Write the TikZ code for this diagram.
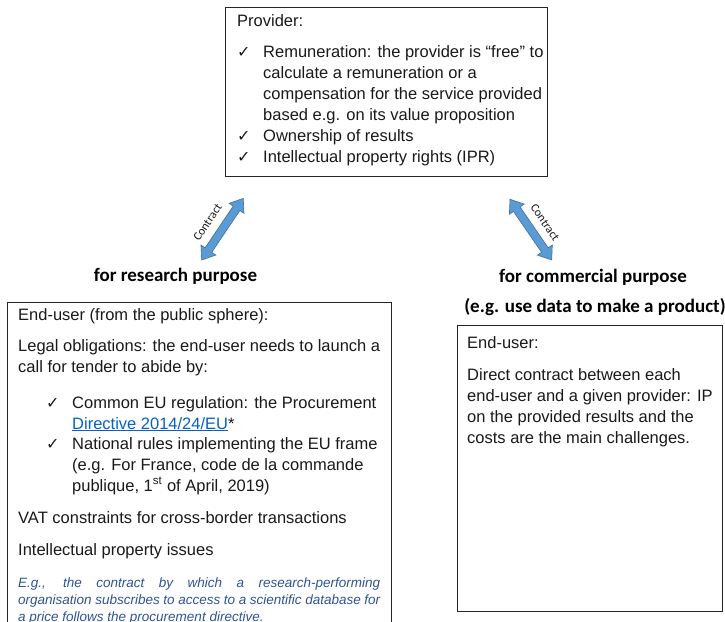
\documentclass[tikz,border=0pt]{standalone}
\usepackage{fontspec}
\setmainfont{Liberation Sans}
\newfontfamily\calfont{Carlito}
\newfontfamily\symfont{DejaVu Sans}
\definecolor{arrowblue}{HTML}{5B9BD5}
\definecolor{arrowedge}{HTML}{41719C}
\definecolor{linkblue}{HTML}{0563C1}
\definecolor{noteblue}{HTML}{2F5496}
\definecolor{ink}{HTML}{1A1A1A}
\newcommand\mylines[1]{\parbox[t]{500pt}{#1}}
\tikzset{
  box/.style={draw=black!85, line width=0.9pt, anchor=north west, inner sep=0pt},
  txt/.style={anchor=base west, inner sep=0pt, text=ink, font=\fontsize{16.5}{21}\selectfont},
  ital/.style={anchor=base west, inner sep=0pt, text=noteblue, font=\fontsize{13.5}{17}\selectfont\itshape},
  chk/.style={anchor=base west, inner sep=0pt, text=ink, font=\symfont\fontsize{16}{16}\selectfont},
  head/.style={anchor=base, inner sep=0pt, text=black, font=\calfont\bfseries\fontsize{19}{20}\selectfont},
  lbl/.style={inner sep=0pt, text=ink, font=\calfont\fontsize{12}{12}\selectfont},
  arr/.style={fill=arrowblue, draw=arrowedge, line width=0.6pt, line join=miter}
}
\begin{document}
\begin{tikzpicture}[x=1pt,y=1pt]
\useasboundingbox (0,0) rectangle (725,-621);
\fill[white] (0,0) rectangle (725,-621);

% boxes
\node[box, minimum width=322pt, minimum height=169pt] (prov) at (225,-7) {};
\node[box, minimum width=384pt, minimum height=340pt] (left) at (7,-302) {};
\node[box, minimum width=265pt, minimum height=286pt] (right) at (457,-325) {};

% provider text
\node[txt] (provtitle) at (237,-27) {Provider:};
\node[chk] (pc1) at (237,-57) {✓};
\node[txt] (pi1) at (263,-57) {\mylines{Remuneration: the provider is “free” to\\calculate a remuneration or a\\compensation for the service provided\\based e.g. on its value proposition}};
\node[chk] (pc2) at (237,-141) {✓};
\node[txt] (pi2) at (263,-141) {Ownership of results};
\node[chk] (pc3) at (237,-162) {✓};
\node[txt] (pi3) at (263,-162) {Intellectual property rights (IPR)};

% headings
\node[head] (hres) at (175.5,-281) {for research purpose};
\node[head] (hcom) at (593,-282) {for commercial purpose};
\node[head] (hcom2) at (595,-312) {(e.g. use data to make a product)};

% left box text
\node[txt] (l1) at (18,-320) {End-user (from the public sphere):};
\node[txt] (l2) at (18,-351) {\mylines{Legal obligations: the end-user needs to launch a\\call for tender to abide by:}};
\node[chk] (lc1) at (46,-408) {✓};
\node[txt] (li1) at (72,-408) {\mylines{Common EU regulation: the Procurement\\{\color{linkblue}\underline{Directive 2014/24/EU}}*}};
\node[chk] (lc2) at (46,-449) {✓};
\node[txt] (li2) at (72,-449) {\mylines{National rules implementing the EU frame\\(e.g. For France, code de la commande\\publique, 1\textsuperscript{st} of April, 2019)}};
\node[txt] (l3) at (18,-523) {VAT constraints for cross-border transactions};
\node[txt] (l4) at (18,-555) {Intellectual property issues};
\node[ital] (l5) at (18,-587) {\parbox[t]{362pt}{\makebox[362pt][s]{E.g., the contract by which a research-performing}\\\makebox[362pt][s]{organisation subscribes to access to a scientific database for}\\a price follows the procurement directive.}};

% right box text
\node[txt] (r1) at (467,-348) {End-user:};
\node[txt] (r2) at (467,-380) {\mylines{Direct contract between each\\end-user and a given provider: IP\\on the provided results and the\\costs are the main challenges.}};

% arrows
\coordinate (la1) at (201.7,-260);
\coordinate (rb1) at (510,-199.3);
\begin{scope}[shift={(la1)}, rotate=56.0]
  \filldraw[arr] (0,0) -- (12,9) -- (12,4) -- (62.3,4) -- (62.3,9) -- (74.3,0) -- (62.3,-9) -- (62.3,-4) -- (12,-4) -- (12,-9) -- cycle;
\end{scope}
\begin{scope}[shift={(rb1)}, rotate=-55.5]
  \filldraw[arr] (0,0) -- (12,9) -- (12,4) -- (61.6,4) -- (61.6,9) -- (73.6,0) -- (61.6,-9) -- (61.6,-4) -- (12,-4) -- (12,-9) -- cycle;
\end{scope}
\node[lbl, rotate=56.0] (cl) at (207.5,-222.5) {Contract};
\node[lbl, rotate=-55.5] (cr) at (545,-222.5) {Contract};
\end{tikzpicture}
\end{document}
